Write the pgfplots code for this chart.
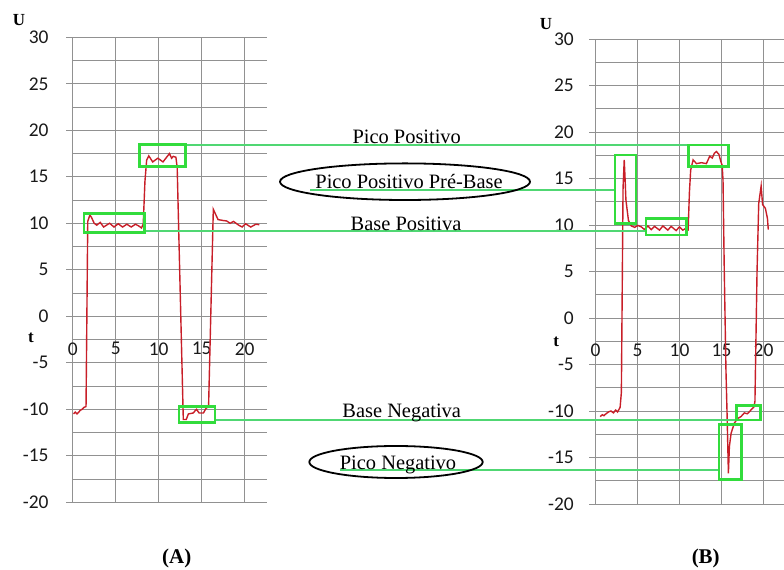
\documentclass[border=0pt]{standalone}
\usepackage{fontspec}
\setmainfont{Liberation Serif}
\newfontfamily\carlito{Carlito}
\usepackage{pgfplots}
\pgfplotsset{compat=1.18}
\definecolor{gridg}{RGB}{145,145,145}
\definecolor{curve}{RGB}{200,30,40}
\definecolor{boxg}{RGB}{50,220,60}
\definecolor{lineg}{RGB}{80,215,115}
\pgfplotsset{excel/.style={
  scale only axis, y=9.3bp,
  xmin=0, ymin=-20, ymax=30,
  axis x line=middle, axis y line=left,
  axis line style={draw=gridg, line width=0.9bp, -},
  xtick={0,5,10,15,20}, ytick={-20,-15,...,30},
  minor y tick num=1,
  grid style={draw=gridg, line width=0.9bp},
  minor grid style={draw=gridg, line width=0.9bp},
  xmajorgrids, ymajorgrids, yminorgrids,
  tick align=outside,
  ytick style={draw=gridg, line width=0.9bp},
  major tick length=6.5bp, minor tick length=0pt,
  xtick style={draw=none},
  tick label style={font=\carlito\fontsize{19.5}{19.5}\selectfont, text=black!90},
  /pgf/number format/assume math mode=true,
  hide obscured x ticks=false, hide obscured y ticks=false,
  x tick label style={anchor=center, yshift=-26bp},
  y tick label style={anchor=east, inner sep=0pt},
  clip=false,
}}
\begin{document}
\begin{tikzpicture}
\useasboundingbox (0,0) rectangle (784bp,570bp);
% ---------- Chart A ----------
\begin{axis}[excel, x=8.6bp, xmax=22.6, at={(72.7bp,67.7bp)}, anchor=south west,
  y tick label style={xshift=-17.5bp}]
\addplot[curve, line width=1.4bp, no markers] coordinates {
(0.1,-10.5) (0.3,-10.3) (0.5,-10.5) (0.7,-10.3) (0.9,-10.1) (1.1,-10.0) (1.3,-9.8) (1.55,-9.7)
(1.75,10.2) (2.0,10.9) (2.2,10.6) (2.5,10.0) (2.8,9.8) (3.2,10.1) (3.6,9.6) (4.1,9.9) (4.3,10.0)
(4.8,9.6) (5.3,9.95) (5.8,9.6) (6.3,9.9) (6.8,9.6) (7.3,9.9) (7.7,9.7) (8.0,9.5) (8.2,9.9)
(8.4,14.5) (8.6,16.8) (8.85,17.25) (9.3,16.6) (9.9,17.0) (10.5,16.6) (11.0,17.2) (11.25,17.5)
(11.5,17.0) (11.7,17.2) (12.0,17.1) (12.15,16.0) (12.86,-11.1) (13.2,-11.1) (13.45,-10.5)
(14.0,-10.4) (14.4,-10.0) (14.7,-10.4) (15.2,-10.4) (15.5,-9.9) (15.8,-9.7) (16.35,11.5)
(16.9,10.4) (17.5,10.3) (17.9,10.25) (18.3,10.0) (18.7,10.2) (19.3,9.8) (19.7,9.6) (20.1,9.95)
(20.7,9.6) (21.3,9.9) (21.7,9.85)};
\end{axis}
% ---------- Chart B ----------
\begin{axis}[excel, x=8.4bp, xmax=22.5, at={(595.5bp,66bp)}, anchor=south west,
  y tick label style={xshift=-15bp}]
\addplot[curve, line width=1.4bp, no markers] coordinates {
(0.56,-10.6) (0.81,-10.4) (1.0,-10.5) (1.25,-10.3) (1.55,-10.1) (1.84,-10.0) (2.14,-10.2)
(2.39,-9.9) (2.63,-10.1) (2.93,-9.6) (3.08,-8) (3.28,14) (3.42,17.0) (3.52,15.0) (3.62,12.7)
(3.92,10.5) (4.26,9.9) (4.66,9.75) (5.05,9.95) (5.45,9.8) (5.84,9.5) (6.24,9.9) (6.63,9.5)
(7.03,9.85) (7.62,9.45) (8.02,9.9) (8.61,9.45) (9.0,9.85) (9.6,9.4) (9.99,9.8) (10.39,9.45)
(10.78,9.65) (11.03,9.5) (11.18,13.5) (11.33,15.9) (11.62,17.0) (12.02,16.6) (12.61,16.7)
(13.2,16.6) (13.6,17.4) (13.9,17.2) (14.14,17.7) (14.39,17.9) (14.69,17.6) (14.93,16.8)
(15.08,16.4) (15.18,14.8) (15.33,5) (15.53,-5.6) (15.67,-10.6) (15.82,-16.7) (15.94,-13.8)
(16.14,-12.4) (16.53,-11.3) (16.93,-10.8) (17.32,-10.6) (17.72,-10.2) (18.05,-10.3)
(18.31,-10.1) (18.59,-9.8) (18.84,-9.6) (18.98,-9.0) (19.23,5) (19.43,12.3) (19.72,14.2)
(19.89,12.2) (20.22,11.8) (20.47,10.7) (20.57,9.5)};
\end{axis}
% ---------- connecting lines ----------
\begin{scope}[lineg, line width=1.2bp]
\draw (185.3bp,425bp) -- (688.3bp,425bp);
\draw (310bp,380bp) -- (615bp,380bp);
\draw (144.3bp,339bp) -- (646bp,339bp);
\draw (215bp,150bp) -- (736.7bp,150bp);
\draw (340bp,100bp) -- (719bp,100bp);
\end{scope}
% ---------- boxes ----------
\begin{scope}[boxg, line width=2.6bp]
\draw (84bp,337.3bp) rectangle (144.3bp,356.7bp);
\draw (139.3bp,403.3bp) rectangle (185.3bp,425.7bp);
\draw (179bp,147.7bp) rectangle (215bp,163.3bp);
\draw (615bp,346.7bp) rectangle (636bp,415bp);
\draw (646bp,335bp) rectangle (686.7bp,351.7bp);
\draw (688.3bp,403.3bp) rectangle (728.3bp,425bp);
\draw (719bp,90.7bp) rectangle (741.7bp,145.7bp);
\draw (736.7bp,150bp) rectangle (760.4bp,164.7bp);
\end{scope}
% ---------- ellipses ----------
\draw[black, line width=1.8bp] (405bp,388.3bp) ellipse [x radius=125bp, y radius=18.3bp];
\draw[black, line width=1.8bp] (396bp,108bp) ellipse [x radius=86.7bp, y radius=16bp];
% ---------- texts ----------
\begin{scope}[every node/.style={font=\fontsize{20.5}{20.5}\selectfont, anchor=base, inner sep=0pt}]
\node at (406.7bp,426bp) {Pico Positivo};
\node at (409bp,381.5bp) {Pico Positivo Pré-Base};
\node at (406bp,339.3bp) {Base Positiva};
\node at (401.7bp,152.7bp) {Base Negativa};
\node at (398bp,100.7bp) {Pico Negativo};
\end{scope}
\begin{scope}[every node/.style={font=\bfseries\fontsize{17}{17}\selectfont, anchor=base, inner sep=0pt}]
\node at (19bp,544bp) {U};
\node at (31bp,227bp) {t};
\node at (546bp,540.7bp) {U};
\node at (556.3bp,223.3bp) {t};
\end{scope}
\begin{scope}[every node/.style={font=\bfseries\fontsize{21}{21}\selectfont, anchor=base, inner sep=0pt}]
\node at (176.7bp,7bp) {(A)};
\node at (705.7bp,7bp) {(B)};
\end{scope}
\end{tikzpicture}
\end{document}
